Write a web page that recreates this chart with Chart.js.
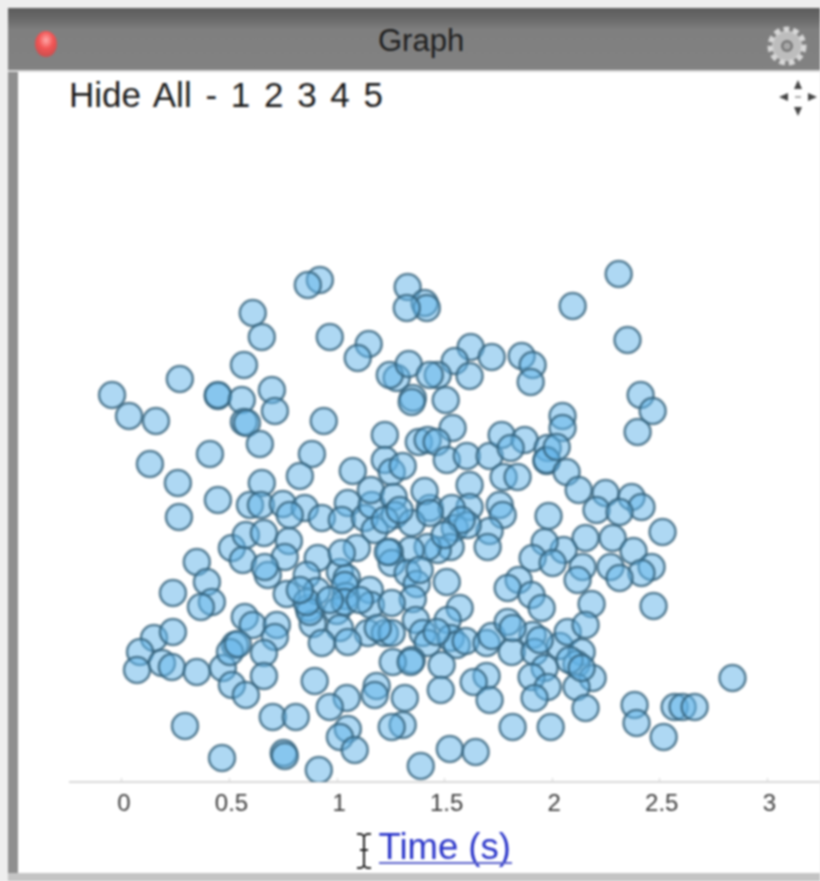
<!DOCTYPE html>
<html><head><meta charset="utf-8">
<script src="https://cdn.jsdelivr.net/npm/chart.js@4"></script>
<style>
html,body{margin:0;padding:0;width:820px;height:881px;overflow:hidden;background:#eeeeee}
#stage{position:absolute;left:0;top:0;width:820px;height:881px;overflow:hidden;filter:blur(0.9px);font-family:"Liberation Sans",Arial,sans-serif}
.abs{position:absolute}
#win{left:18px;top:70px;width:802px;height:803px;background:#fff}
#lb{left:8px;top:8px;width:10px;height:873px;background:#8f8f8f}
#bb{left:8px;top:873px;width:812px;height:8px;background:#c4c4c4}
#bar{left:8px;top:8px;width:812px;height:64px;background:linear-gradient(#5c5c5c 0,#6a6a6a 18%,#7f7f7f 35%,#828282 100%);border-bottom:2px solid #d8d8d8;box-sizing:border-box}
#ttl{left:378px;top:23px;font-size:31px;line-height:36px;color:#1e1e1e}
#menu{left:69px;top:75px;font-size:35px;line-height:40px;color:#1c1c1c;word-spacing:4px;white-space:nowrap}
#c{position:absolute;left:0;top:0}
#ul{left:379px;top:862px;width:133px;height:2px;background:#5a62cc}
</style></head><body>
<div id="stage">
<div class="abs" id="win"></div>
<div class="abs" id="lb"></div>
<div class="abs" id="bb"></div>
<div class="abs" id="bar"></div>
<div class="abs" id="ttl">Graph</div>
<div class="abs" id="menu">Hide All - 1 2 3 4 5</div>
<svg class="abs" style="left:0;top:0" width="820" height="881">
<defs><radialGradient id="rd" cx="50%" cy="35%" r="60%"><stop offset="0" stop-color="#ffa8a8"/><stop offset="0.55" stop-color="#f25555"/><stop offset="1" stop-color="#cf5050"/></radialGradient></defs>
<ellipse cx="46" cy="44" rx="11" ry="13" fill="url(#rd)"/>
<circle cx="787" cy="46" r="15" fill="#cfcfcf" stroke="#d8d8d8" stroke-width="9" stroke-dasharray="5 3.4"/>
<circle cx="787" cy="46" r="14" fill="#bdbdbd"/>
<circle cx="787" cy="46" r="6" fill="#777"/><circle cx="787" cy="46" r="3.5" fill="#a8a8a8"/>
<g fill="#444"><path d="M798 80l4 9h-8zM798 116l4-9h-8zM779 97l9-4v8zM817 97l-9-4v8z"/></g>
<rect x="795" y="96" width="6" height="2" fill="#aaa"/>
<path d="M357 834h4l3 2 3-2h4M364 836v30M357 868h4l3-2 3 2h4M360 850h8" stroke="#222" stroke-width="2" fill="none"/>
</svg>
<canvas id="c" width="835" height="881"></canvas>
<div class="abs" id="ul"></div>
</div>
<script>
const timeSeconds=[
-0.046,0.033,0.158,0.269,0.446,0.446,0.557,0.697,0.711,0.567,0.581,0.641,0.567,0.608,0.650,0.920,0.864,0.966,1.147,1.096,
0.938,0.130,0.409,0.260,0.446,0.265,0.883,0.827,1.073,0.650,0.595,0.646,0.748,0.850,0.929,1.050,1.022,1.129,1.161,1.157,
1.222,1.222,1.254,1.305,1.263,1.268,1.175,1.277,1.245,1.333,1.328,1.407,1.417,1.324,2.309,2.095,2.350,1.621,1.547,1.719,
1.858,1.909,1.900,1.616,1.468,1.431,1.352,1.347,1.505,2.411,2.467,2.397,2.048,2.048,1.537,1.380,1.421,1.463,1.510,1.603,
1.709,1.765,1.872,1.807,1.774,1.839,1.979,1.974,1.974,2.067,2.021,2.123,2.248,2.369,2.415,2.206,2.313,1.983,1.616,1.616,
1.756,1.770,1.431,1.407,1.533,1.347,1.547,1.709,1.700,1.528,1.468,1.421,1.342,1.245,1.254,1.328,1.370,1.352,1.510,1.570,
1.366,1.398,1.421,1.514,1.528,1.556,1.598,1.695,1.719,1.793,1.909,1.812,1.918,2.035,2.072,2.137,2.113,2.188,2.113,1.965,
1.904,1.979,1.918,1.695,1.635,1.709,1.486,1.347,1.482,1.315,1.305,1.254,1.816,1.993,2.155,2.383,2.392,2.518,2.569,2.606,
2.662,2.838,1.524,1.644,1.389,2.513,2.155,2.281,2.378,2.462,2.415,2.271,2.313,2.053,1.965,1.909,2.002,2.141,2.118,1.844,
1.793,1.904,1.951,2.183,2.155,2.471,0.348,0.395,0.237,0.418,0.367,0.511,0.562,0.576,0.660,0.776,0.757,0.678,0.664,0.910,
0.859,0.766,0.869,0.906,1.013,1.045,1.092,1.022,1.040,1.152,1.157,0.999,1.254,1.013,1.143,1.222,1.254,0.887,0.929,1.050,
1.259,1.342,0.149,0.237,0.084,0.070,0.186,0.232,0.348,0.469,0.571,0.608,0.720,0.711,0.525,0.502,0.539,0.660,0.660,0.511,
0.576,0.896,1.045,0.966,1.184,1.175,0.701,0.808,0.293,1.050,1.013,1.082,0.465,0.752,0.757,0.915,1.236,1.431,0.780,1.607,
0.873,0.859,1.036,1.036,1.579,1.500,1.222,1.291,1.384,1.816,1.942,2.081,2.137,1.189,1.463,0.966,1.106,0.827];
const measuredValues=[
3.87,3.66,3.61,4.03,3.86,3.87,3.82,3.92,3.71,3.60,3.59,3.38,4.17,4.69,4.45,5.02,4.97,4.45,4.38,4.24,
3.61,3.18,3.28,2.99,2.82,2.65,3.28,3.06,3.11,2.99,2.77,2.77,2.78,2.74,2.64,2.79,2.62,2.64,2.77,2.92,
3.47,3.22,3.10,3.16,2.85,2.67,2.52,4.04,4.07,4.18,4.95,4.79,4.74,4.74,5.08,4.76,4.42,4.35,4.21,4.25,
4.26,4.17,4.00,4.06,4.07,4.07,3.84,3.80,3.82,3.87,3.71,3.50,3.66,3.54,3.54,3.40,3.42,3.40,3.22,3.26,
3.26,3.47,3.42,3.34,3.05,3.05,3.34,3.21,3.22,3.10,3.35,2.92,2.89,2.85,2.75,2.72,2.70,2.66,2.97,2.75,
2.77,2.67,2.74,2.91,2.74,2.59,2.54,2.51,2.35,2.35,2.32,2.35,2.32,2.30,2.19,2.09,1.98,1.83,2.00,1.74,
1.62,1.49,1.39,1.62,1.44,1.37,1.41,1.39,1.46,1.60,1.47,1.30,1.30,1.36,1.50,1.30,1.18,1.04,0.95,1.14,
1.05,0.95,0.84,1.06,1.00,0.82,1.17,1.22,0.92,0.84,0.57,0.55,0.55,0.55,0.74,0.77,0.59,0.45,0.75,0.75,
0.75,1.04,0.33,0.30,0.16,2.50,2.44,2.44,2.31,2.15,2.09,2.15,2.04,2.32,2.40,2.24,2.19,2.15,2.02,2.02,
1.94,1.87,1.74,1.78,1.57,1.76,2.20,2.00,1.89,1.80,1.75,2.34,2.22,2.47,2.49,2.41,2.25,2.07,2.15,2.24,
2.07,1.88,1.74,1.91,2.10,2.04,2.34,2.29,1.86,1.92,1.77,1.71,1.79,1.54,1.49,1.49,1.49,1.58,1.39,1.40,
1.20,1.20,1.44,1.50,1.30,1.12,1.19,1.15,1.10,1.14,1.65,1.57,1.57,1.45,1.37,1.30,1.38,1.29,1.06,0.97,
0.87,1.01,0.84,0.75,0.96,0.87,0.65,0.65,0.56,0.53,0.45,0.32,0.24,0.29,0.26,0.12,2.30,2.69,2.67,2.57,
1.70,1.80,1.97,1.80,2.62,2.47,2.62,2.72,2.12,1.54,1.42,1.22,1.14,1.54,1.50,1.82,1.82,1.92];
const axisTitle="Time (s)";
const points=timeSeconds.map((t,i)=>({x:t,y:measuredValues[i]}));
new Chart(document.getElementById('c'),{
  type:'scatter',
  data:{datasets:[{data:points,clip:0,pointRadius:13,pointHoverRadius:13,pointBorderWidth:2.6,
    pointBackgroundColor:'rgba(100,180,232,0.52)',pointBorderColor:'rgba(50,95,120,0.75)'}]},
  options:{
    responsive:false,animation:false,events:[],
    layout:{padding:{left:70,right:0,top:120,bottom:0}},
    plugins:{legend:{display:false},tooltip:{enabled:false},title:{display:false}},
    scales:{
      x:{type:'linear',min:-0.2415,max:3.242,
        afterFit(s){s.height=99;},
        border:{color:'#d9d9d9',width:2},
        grid:{drawOnChartArea:false,drawTicks:true,tickLength:-4,color:'#d4d4d4',lineWidth:1},
        ticks:{stepSize:0.5,includeBounds:false,autoSkip:false,maxRotation:0,labelOffset:2,padding:12,
          color:'#3c3c3c',font:{family:'"Liberation Sans"',size:24},callback:v=>String(v)},
        title:{display:true,text:axisTitle,color:'#2b36c9',font:{family:'"Liberation Sans"',size:36.5},padding:{top:0,bottom:10}}
      },
      y:{type:'linear',min:0,max:6.62,display:false}
    }
  }
});
</script>
</body></html>
